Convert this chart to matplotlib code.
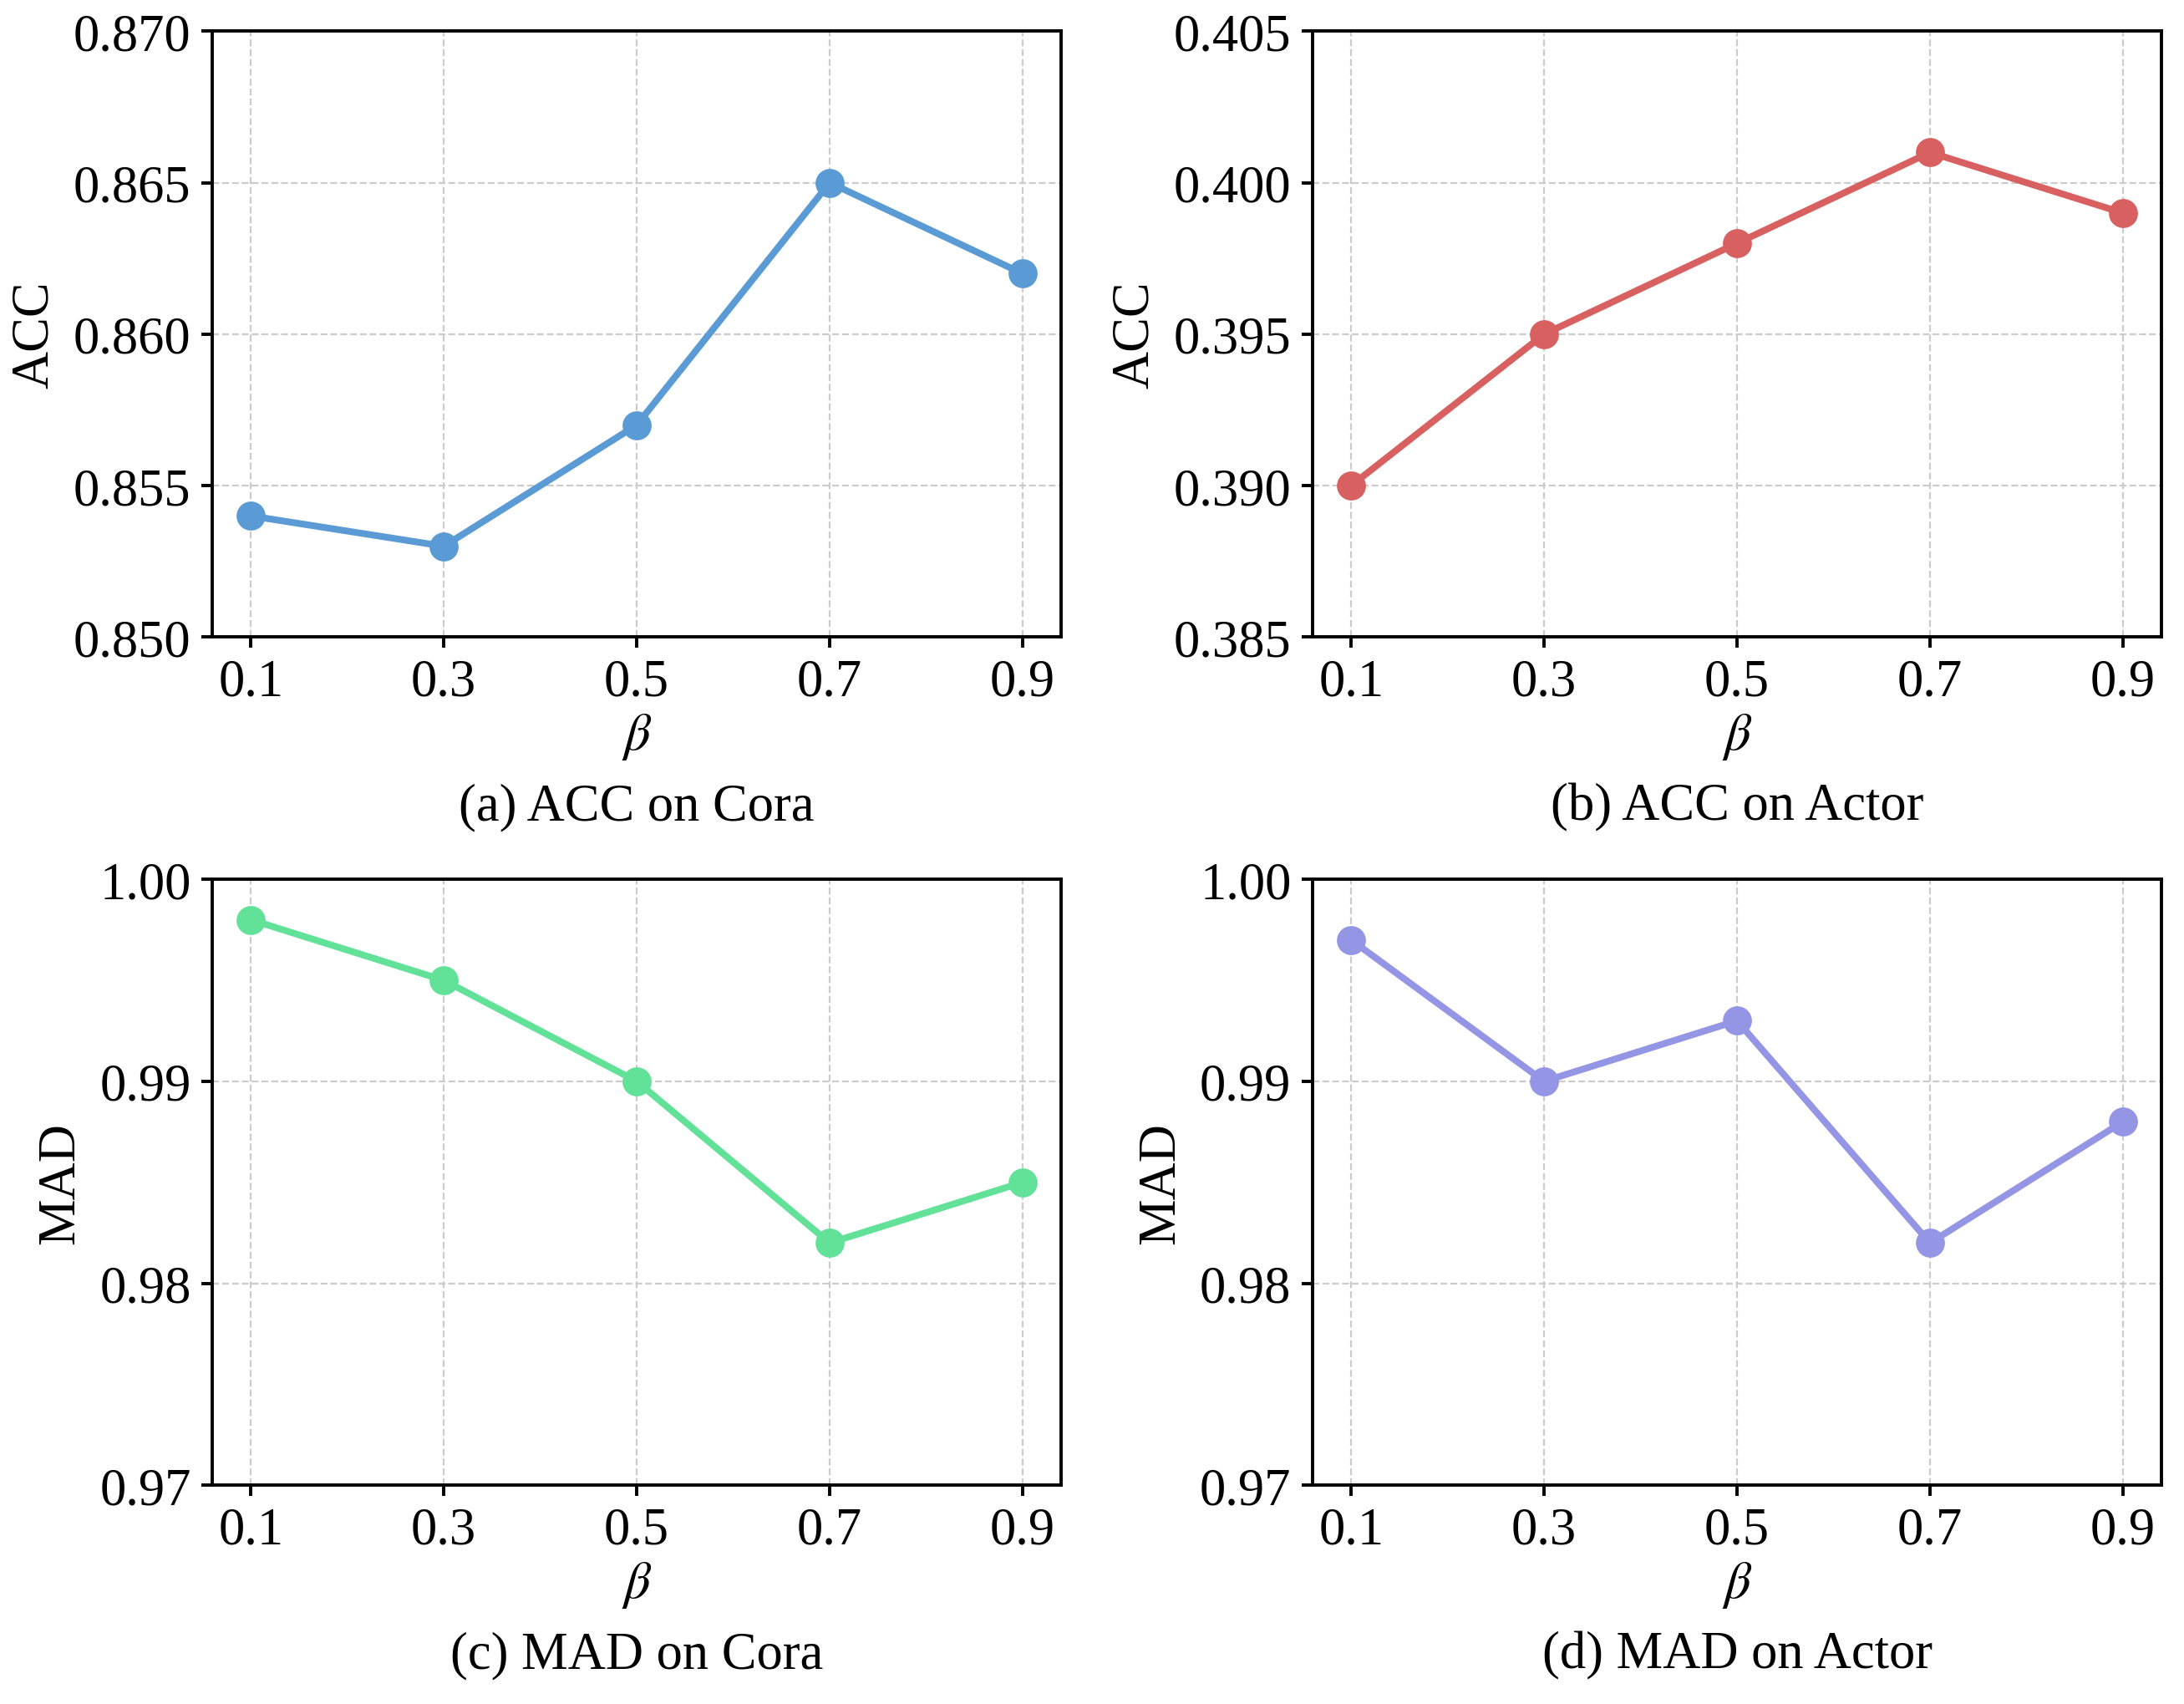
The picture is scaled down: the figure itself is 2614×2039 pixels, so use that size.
import numpy as np
import matplotlib
matplotlib.use("Agg")
import matplotlib.pyplot as plt

plt.rcParams['font.family'] = ['Liberation Serif', 'DejaVu Serif']
plt.rcParams['mathtext.fontset'] = 'stix'

betas = [0.1, 0.3, 0.5, 0.7, 0.9]
beta_labels = ['0.1', '0.3', '0.5', '0.7', '0.9']

acc_cora = [0.854, 0.853, 0.857, 0.865, 0.862]
acc_actor = [0.390, 0.395, 0.398, 0.401, 0.399]
mad_cora = [0.998, 0.995, 0.990, 0.982, 0.985]
mad_actor = [0.997, 0.990, 0.993, 0.982, 0.988]

colors = ['#5b9bd5', '#d96060', '#62e199', '#9595e6']
ylabels = ['ACC', 'ACC', 'MAD', 'MAD']
captions = ['(a) ACC on Cora', '(b) ACC on Actor', '(c) MAD on Cora', '(d) MAD on Actor']
yticks = [
    [0.850, 0.855, 0.860, 0.865, 0.870],
    [0.385, 0.390, 0.395, 0.400, 0.405],
    [0.97, 0.98, 0.99, 1.00],
    [0.97, 0.98, 0.99, 1.00],
]
yfmt = ['%.3f', '%.3f', '%.2f', '%.2f']
series = [acc_cora, acc_actor, mad_cora, mad_actor]

fig = plt.figure(figsize=(13.07, 10.2), dpi=200)
lefts = [0.0972, 0.601]
bottoms = [0.6258, 0.1283]
w = 0.3887
h = 0.3554
fs = 22.5

for i in range(4):
    row, col = divmod(i, 2)
    ax = fig.add_axes([lefts[col], bottoms[row], w, h])
    ax.grid(True, linestyle='--', color='#cccccc', linewidth=0.8)
    ax.set_axisbelow(True)
    ax.plot(betas, series[i], color=colors[i], linewidth=2.9,
            marker='o', markersize=11.5, zorder=3)
    ax.set_xticks(betas)
    ax.set_xticklabels(beta_labels)
    ax.set_yticks(yticks[i])
    ax.set_yticklabels([yfmt[i] % v for v in yticks[i]])
    ax.set_ylim(yticks[i][0], yticks[i][-1])
    ax.tick_params(labelsize=fs, width=1.4, length=4.7, pad=4.5)
    for s in ax.spines.values():
        s.set_linewidth(1.4)
    ax.set_ylabel(ylabels[i], fontsize=fs, labelpad=6)
    ax.set_xlabel(r'$\beta$', fontsize=fs, labelpad=2)
    ax.text(0.5, -0.28, captions[i], transform=ax.transAxes,
            ha='center', va='center', fontsize=fs)

fig.savefig('out.png', dpi=200)
